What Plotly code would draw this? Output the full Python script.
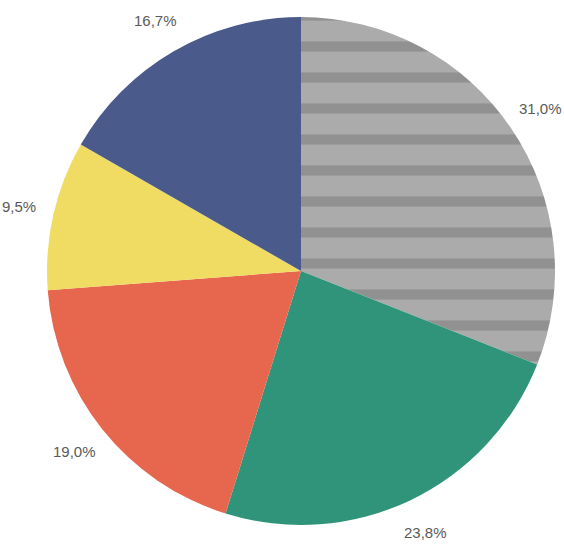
import math
import plotly.graph_objects as go

labels = ["Grau", "Grün", "Rot", "Gelb", "Blau"]
values = [31.0, 23.8, 19.0, 9.5, 16.7]
text_labels = ["31,0%", "23,8%", "19,0%", "9,5%", "16,7%"]
colors = ["#ababab", "#2f9479", "#e7664e", "#f0dc62", "#4a5a8a"]

W, H = 564, 546
cx, cy, R = 301, 271, 254

fig = go.Figure(go.Pie(
    labels=labels,
    values=values,
    sort=False,
    direction="clockwise",
    rotation=0,
    textinfo="none",
    hoverinfo="label+percent",
    showlegend=False,
    marker=dict(
        colors=colors,
        line=dict(width=0),
        pattern=dict(
            shape=["-", "", "", "", ""],
            fgcolor="#777777",
            bgcolor=colors,
            size=31,
            solidity=0.33,
            fillmode="overlay",
        ),
    ),
    domain=dict(x=[(cx - R) / W, (cx + R) / W], y=[(H - cy - R) / H, (H - cy + R) / H]),
))

total = sum(values)
cum = 0.0
annotations = []
for v, t in zip(values, text_labels):
    mid = (cum + v / 2) / total * 2 * math.pi
    cum += v
    r = R * 1.14
    px = cx + r * math.sin(mid)
    py = cy - r * math.cos(mid)
    annotations.append(dict(
        x=px / W, y=(H - py) / H, xref="paper", yref="paper",
        xanchor="center", yanchor="middle",
        text=t, showarrow=False,
        font=dict(family="Liberation Sans Narrow, Arial Narrow, sans-serif", size=15, color="#5a5a5a"),
    ))

fig.update_layout(
    width=W, height=H,
    margin=dict(l=0, r=0, t=0, b=0),
    paper_bgcolor="white",
    plot_bgcolor="white",
    annotations=annotations,
)

fig.write_html("out.html")
